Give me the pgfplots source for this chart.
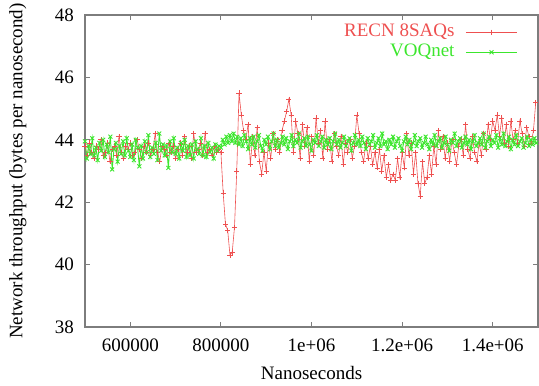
\documentclass[border=0pt]{standalone}
\usepackage{pgfplots}
\pgfplotsset{compat=1.18}
\usepackage{fontspec}
\setmainfont{Liberation Serif}
\definecolor{recn}{RGB}{238,80,80}
\definecolor{voq}{RGB}{60,230,45}
\definecolor{frm}{RGB}{125,125,125}

\pgfplotstableread{
x y
500 43.8
505 43.5
510 43.9
515 43.6
520 43.4
525 43.8
530 43.7
535 44.0
540 43.5
545 43.6
550 43.9
555 43.3
560 43.7
565 43.8
570 43.5
575 44.1
580 43.6
585 43.4
590 43.8
595 43.7
600 43.9
605 43.5
610 43.6
615 44.0
620 43.7
625 43.4
630 43.8
635 43.6
640 43.9
645 43.5
650 43.7
655 44.2
660 43.6
665 43.3
670 43.8
675 43.7
680 43.5
685 43.9
690 43.6
695 43.8
700 43.4
705 43.7
710 43.9
715 43.5
720 44.1
725 43.6
730 43.8
735 43.4
740 44.2
745 43.6
750 43.7
755 43.9
760 43.5
765 44.2
770 43.6
775 43.7
780 43.5
785 43.8
790 43.6
795 43.7
800 43.6
805 42.3
810 41.3
815 41.1
820 40.3
825 40.4
830 41.2
835 43.0
840 45.5
845 44.8
850 44.3
855 44.0
860 44.5
865 43.2
870 44.1
875 43.5
880 44.4
885 43.3
890 42.9
895 43.6
900 43.0
905 43.9
910 43.4
915 44.2
920 43.7
925 44.0
930 43.6
935 44.3
940 44.6
945 44.9
950 45.3
955 44.8
960 43.6
965 44.6
970 44.2
975 43.4
980 44.5
985 43.8
990 44.4
995 43.3
1000 44.1
1005 43.5
1010 44.7
1015 43.9
1020 44.3
1025 43.4
1030 44.6
1035 43.7
1040 44.0
1045 43.3
1050 44.2
1055 43.8
1060 43.5
1065 44.1
1070 43.2
1075 43.9
1080 43.6
1085 44.0
1090 43.4
1095 43.8
1100 44.8
1105 44.2
1110 43.6
1115 43.3
1120 43.9
1125 43.4
1130 43.8
1135 43.2
1140 43.6
1145 43.1
1150 43.7
1155 43.0
1160 43.5
1165 42.8
1170 43.2
1175 42.7
1180 42.9
1185 42.7
1190 43.4
1195 42.8
1200 43.6
1205 43.1
1210 44.2
1215 43.5
1220 43.9
1225 42.9
1230 43.6
1235 42.6
1240 42.2
1245 43.3
1250 42.6
1255 42.8
1260 43.5
1265 42.9
1270 43.8
1275 43.2
1280 44.3
1285 43.7
1290 44.1
1295 43.4
1300 43.9
1305 43.3
1310 44.0
1315 43.6
1320 43.2
1325 43.8
1330 44.0
1335 43.5
1340 44.5
1345 43.7
1350 43.4
1355 44.1
1360 43.6
1365 43.3
1370 43.9
1375 43.5
1380 44.2
1385 43.7
1390 44.5
1395 44.0
1400 44.6
1405 44.3
1410 44.8
1415 44.1
1420 44.7
1425 43.9
1430 44.5
1435 43.8
1440 44.6
1445 44.0
1450 44.3
1455 43.9
1460 44.6
1465 44.2
1470 43.8
1475 44.4
1480 44.1
1485 43.9
1490 44.3
1495 45.2
}\recn

\pgfplotstableread{
x y
500 43.95
504 43.40
508 43.80
512 43.55
516 44.05
520 43.50
524 43.75
528 43.35
532 43.90
536 43.65
540 44.00
544 43.45
548 43.85
552 43.60
556 44.10
560 43.05
564 43.70
568 43.90
572 43.30
576 43.80
580 43.55
584 43.95
588 43.50
592 44.05
596 43.65
600 43.45
604 43.85
608 43.35
612 44.00
616 43.75
620 43.15
624 43.80
628 43.40
632 43.95
636 43.60
640 44.15
644 43.45
648 43.75
652 43.55
656 43.90
660 43.35
664 44.20
668 43.65
672 43.85
676 43.50
680 43.80
684 43.10
688 43.95
692 43.60
696 44.05
700 43.55
704 43.75
708 43.40
712 43.90
716 43.65
720 44.00
724 43.45
728 43.80
732 43.50
736 43.85
740 43.40
744 43.95
748 43.70
752 43.55
756 44.05
760 43.50
764 43.80
768 43.45
772 43.90
776 43.60
780 43.75
784 43.40
788 43.85
792 43.65
796 43.80
800 43.75
804 44.00
808 43.85
812 44.10
816 43.90
820 44.15
824 43.95
828 44.20
832 43.90
836 44.10
840 43.85
844 44.05
848 43.80
852 44.15
856 43.95
860 43.70
864 44.05
868 43.85
872 44.10
876 43.75
880 43.95
884 44.15
888 43.80
892 43.65
896 44.00
900 43.85
904 44.10
908 43.70
912 43.95
916 44.20
920 43.80
924 44.00
928 43.75
932 43.90
936 44.10
940 43.85
944 44.05
948 43.70
952 43.95
956 44.15
960 43.80
964 44.00
968 43.90
972 44.20
976 43.75
980 43.95
984 44.05
988 43.80
992 44.10
996 43.85
1000 43.65
1004 44.00
1008 43.90
1012 44.15
1016 43.80
1020 43.95
1024 44.10
1028 43.75
1032 44.00
1036 43.85
1040 44.05
1044 43.70
1048 43.95
1052 44.20
1056 43.85
1060 44.00
1064 43.75
1068 43.90
1072 44.10
1076 43.80
1080 43.95
1084 44.05
1088 43.65
1092 43.90
1096 44.15
1100 43.85
1104 44.00
1108 43.80
1112 44.10
1116 43.90
1120 43.70
1124 44.05
1128 43.85
1132 43.95
1136 44.15
1140 43.75
1144 43.90
1148 44.05
1152 43.80
1156 44.20
1160 43.85
1164 43.95
1168 43.70
1172 44.00
1176 43.85
1180 44.10
1184 43.75
1188 43.95
1192 44.05
1196 43.80
1200 43.65
1204 43.95
1208 44.10
1212 43.85
1216 44.00
1220 43.70
1224 43.90
1228 44.15
1232 43.80
1236 43.95
1240 44.05
1244 43.75
1248 43.90
1252 44.10
1256 43.85
1260 43.70
1264 44.00
1268 43.85
1272 44.15
1276 43.80
1280 43.95
1284 44.05
1288 43.75
1292 43.90
1296 44.10
1300 43.85
1304 43.65
1308 44.00
1312 43.90
1316 44.20
1320 43.80
1324 43.95
1328 44.05
1332 43.75
1336 43.90
1340 44.10
1344 43.85
1348 44.00
1352 43.70
1356 43.95
1360 44.15
1364 43.80
1368 43.90
1372 44.05
1376 43.85
1380 44.20
1384 43.75
1388 43.95
1392 44.10
1396 43.80
1400 44.00
1404 43.90
1408 44.15
1412 43.75
1416 44.05
1420 43.85
1424 44.20
1428 43.80
1432 43.95
1436 44.10
1440 43.70
1444 44.00
1448 43.85
1452 44.15
1456 43.80
1460 43.95
1464 44.05
1468 43.75
1472 43.90
1476 44.10
1480 43.80
1484 44.00
1488 43.85
1492 44.05
1496 43.90
}\voq

\begin{document}
\begin{tikzpicture}[font=\fontsize{9.5}{11}\selectfont]
\begin{axis}[name=ax, scale only axis, width=226.5pt, height=156pt,
  xmin=500, xmax=1500, ymin=38, ymax=48,
  xtick={600,800,1000,1200,1400},
  xticklabels={600000,800000,1e+06,1.2e+06,1.4e+06},
  ytick={38,40,42,44,46,48},
  /pgf/number format/assume math mode=true,
  tick align=inside, major tick length=2.5pt,
  axis line style={frm, line width=0.6pt},
  every tick/.style={frm, line width=0.5pt},
  ticklabel style={font=\fontsize{9.5}{11}\selectfont, text=black},
  xticklabel style={yshift=-2.5pt},
  yticklabel style={xshift=-2pt},
  xlabel={Nanoseconds},
  ylabel={Network throughput (bytes per nanosecond)},
  xlabel style={at={(axis description cs:0.5,-0.147)}, anchor=center},
  ylabel style={at={(axis description cs:-0.148,0.5)}, anchor=center},
  legend style={draw=none, fill=none, at={(1,1)}, anchor=north east,
    xshift=-10pt, yshift=-3.7pt, inner sep=0pt, row sep=0.5pt, column sep=5pt,
    nodes={inner sep=0.5pt, text height=6.5pt, text depth=2pt},
    font=\fontsize{9.5}{11}\selectfont},
  legend cell align=right,
  legend plot pos=right,
  legend image code/.code={\draw[mark repeat=2,mark phase=2] plot coordinates {(0cm,0cm) (0.45cm,0cm) (0.9cm,0cm)};},
]
\addplot[recn, line width=0.3pt, mark=+, mark size=1.3pt, mark options={solid}] table[x=x,y=y] {\recn};
\addlegendentry{\textcolor{recn}{RECN 8SAQs}}
\addplot[voq, line width=0.45pt, mark=x, mark size=1.4pt, mark options={solid}] table[x=x,y=y] {\voq};
\addlegendentry{\textcolor{voq}{VOQnet}}
\end{axis}
\pgfresetboundingbox
\path ([shift={(-42.5pt,-29pt)}]ax.south west) rectangle ([shift={(0.5pt,7.5pt)}]ax.north east);
\end{tikzpicture}
\end{document}
